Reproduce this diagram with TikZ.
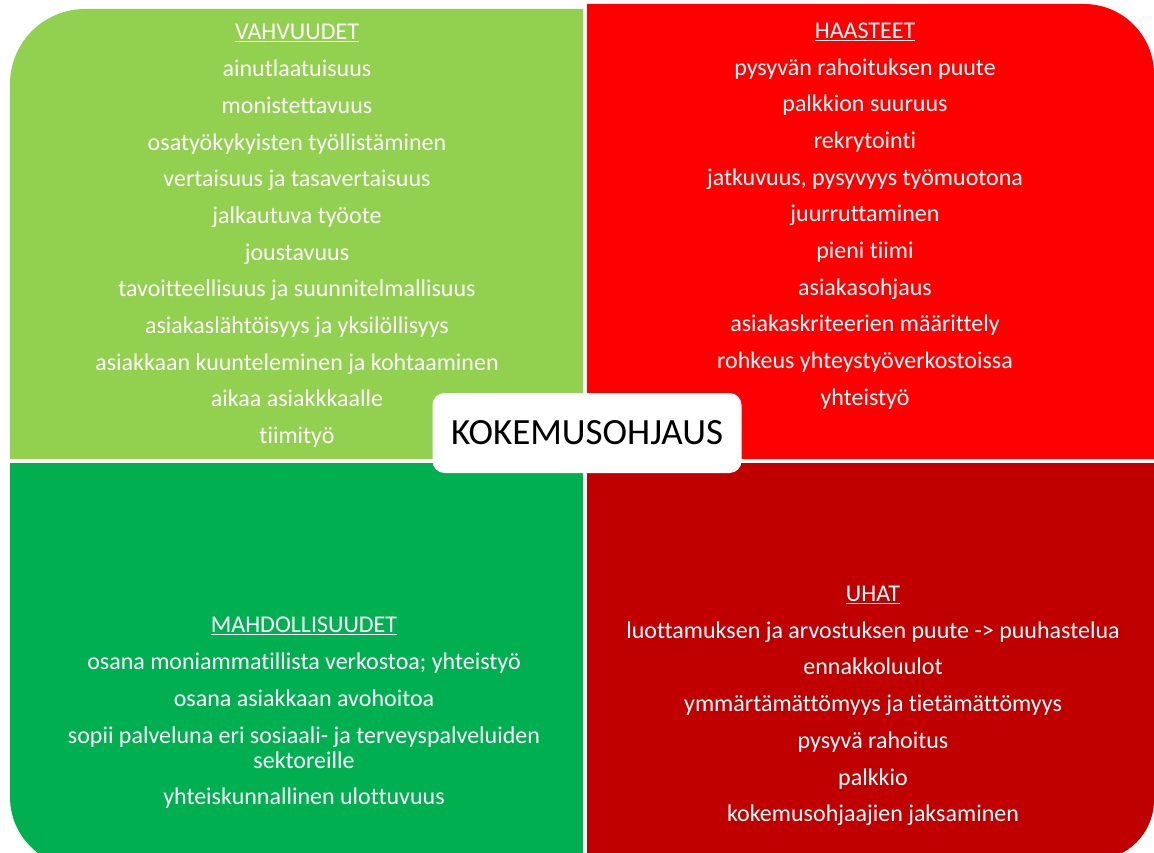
\documentclass[tikz,border=0pt]{standalone}
\usepackage{fontspec}
\setmainfont[Ligatures=NoCommon]{Carlito}
\definecolor{vahvuus}{HTML}{92D050}
\definecolor{haaste}{HTML}{FF0000}
\definecolor{mahdollisuus}{HTML}{00B050}
\definecolor{uhka}{HTML}{C00000}
\tikzset{
  lista/.style={text=white, align=center, font=\fontsize{24}{36.7}\selectfont},
  keskus/.style={fill=white, rounded corners=12pt, minimum width=309pt, minimum height=80pt, font=\fontsize{37}{40}\selectfont}
}
\begin{document}
\begin{tikzpicture}[x=1pt,y=-1pt]
\clip (0,0) rectangle (1154,853);
\fill[white] (0,0) rectangle (1154,853);
% quadrants
\fill[vahvuus] (583,459) -- (10,459) -- (10,84) arc[start angle=180,end angle=270,radius=75] -- (583,9) -- cycle;
\fill[haaste] (587,459) -- (587,4) -- (1084,4) arc[start angle=270,end angle=360,radius=70] -- (1154,459) -- cycle;
\fill[mahdollisuus] (583,463) -- (10,463) -- (10,797) arc[start angle=180,end angle=90,radius=70] -- (583,867) -- cycle;
\fill[uhka] (587,463) -- (1154,463) -- (1154,800) arc[start angle=0,end angle=90,radius=60] -- (587,860) -- cycle;
% texts
\node[lista] (vahvuudet) at (297,236) {\underline{VAHVUUDET}\\
  ainutlaatuisuus\\
  monistettavuus\\
  osatyökykyisten työllistäminen\\
  vertaisuus ja tasavertaisuus\\
  jalkautuva työote\\
  joustavuus\\
  tavoitteellisuus ja suunnitelmallisuus\\
  asiakaslähtöisyys ja yksilöllisyys\\
  asiakkaan kuunteleminen ja kohtaaminen\\
  aikaa asiakkkaalle\\
  tiimityö};
\node[lista] (haasteet) at (865,216) {\underline{HAASTEET}\\
  pysyvän rahoituksen puute\\
  palkkion suuruus\\
  rekrytointi\\
  jatkuvuus, pysyvyys työmuotona\\
  juurruttaminen\\
  pieni tiimi\\
  asiakasohjaus\\
  asiakaskriteerien määrittely\\
  rohkeus yhteystyöverkostoissa\\
  yhteistyö};
\node[lista] (mahdollisuudet) at (304,713) {\underline{MAHDOLLISUUDET}\\
  osana moniammatillista verkostoa; yhteistyö\\
  osana asiakkaan avohoitoa\\
  sopii palveluna eri sosiaali- ja terveyspalveluiden\\[-11.7pt]
  sektoreille\\
  yhteiskunnallinen ulottuvuus};
\node[lista] (uhat) at (873,706) {\underline{UHAT}\\
  luottamuksen ja arvostuksen puute -> puuhastelua\\
  ennakkoluulot\\
  ymmärtämättömyys ja tietämättömyys\\
  pysyvä rahoitus\\
  palkkio\\
  kokemusohjaajien jaksaminen};
% centre
\node[keskus] (kokemusohjaus) at (587,433) {KOKEMUSOHJAUS};
\end{tikzpicture}
\end{document}
